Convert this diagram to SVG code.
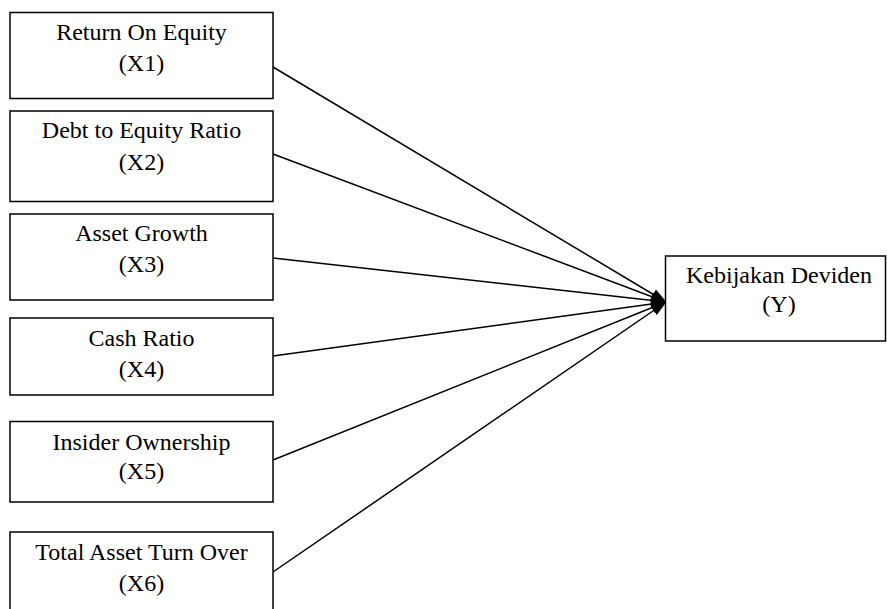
<svg xmlns="http://www.w3.org/2000/svg" width="887" height="609" viewBox="0 0 887 609">
<style>
.box{fill:#fff;stroke:#000;stroke-width:1.5}
.t{font-family:"Liberation Serif","Times New Roman",serif;font-size:24px;fill:#000;text-anchor:middle}
.c{stroke:#000;stroke-width:1.5;fill:none;marker-end:url(#ah)}
</style>
<defs>
<marker id="ah" markerWidth="16" markerHeight="12" refX="15" refY="6" orient="auto" markerUnits="userSpaceOnUse">
<path d="M0,0.5 L16,6 L0,11.5 Z" fill="#000"/>
</marker>
</defs>
<rect width="887" height="609" fill="#fff"/>
<g id="connectors">
<line class="c" x1="273" y1="67" x2="666" y2="302"/>
<line class="c" x1="273" y1="154" x2="666" y2="302"/>
<line class="c" x1="273" y1="258" x2="666" y2="302"/>
<line class="c" x1="273" y1="356" x2="666" y2="302"/>
<line class="c" x1="273" y1="460" x2="666" y2="302"/>
<line class="c" x1="273" y1="572" x2="666" y2="302"/>
</g>
<g id="x1"><rect class="box" x="10" y="12.5" width="263" height="86"/><text class="t" x="141.5" y="40">Return On Equity</text><text class="t" x="141.5" y="71">(X1)</text></g>
<g id="x2"><rect class="box" x="10" y="111" width="263" height="90.5"/><text class="t" x="141.5" y="138">Debt to Equity Ratio</text><text class="t" x="141.5" y="170">(X2)</text></g>
<g id="x3"><rect class="box" x="10" y="214" width="263" height="86"/><text class="t" x="141.5" y="241">Asset Growth</text><text class="t" x="141.5" y="272">(X3)</text></g>
<g id="x4"><rect class="box" x="10" y="318" width="263" height="77"/><text class="t" x="141.5" y="346">Cash Ratio</text><text class="t" x="141.5" y="377">(X4)</text></g>
<g id="x5"><rect class="box" x="10" y="421.5" width="263" height="80.5"/><text class="t" x="141.5" y="450">Insider Ownership</text><text class="t" x="141.5" y="479">(X5)</text></g>
<g id="x6"><rect class="box" x="10" y="532" width="263" height="90"/><text class="t" x="141.5" y="560">Total Asset Turn Over</text><text class="t" x="141.5" y="591">(X6)</text></g>
<g id="y"><rect class="box" x="665.5" y="256" width="220" height="85"/><text class="t" x="779" y="283">Kebijakan Deviden</text><text class="t" x="779" y="312">(Y)</text></g>
</svg>
